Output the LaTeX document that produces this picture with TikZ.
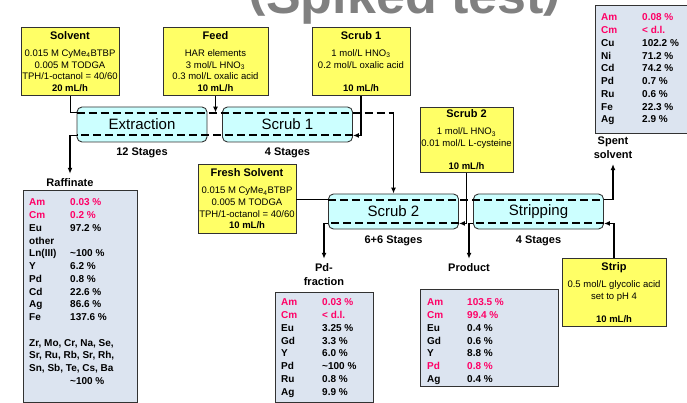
\documentclass[tikz,border=0pt]{standalone}
\usepackage{fontspec}
\setmainfont{Liberation Sans}
\usetikzlibrary{arrows.meta,calc}

\definecolor{feedyellow}{RGB}{255,255,102}
\definecolor{stagecyan}{RGB}{204,255,255}
\definecolor{resultfill}{RGB}{220,228,240}
\definecolor{actinide}{RGB}{255,0,102}
\definecolor{titlegray}{RGB}{128,128,128}
\definecolor{edgegray}{RGB}{50,50,50}

\newcommand{\hl}[1]{\textcolor{actinide}{#1}}
\newcommand{\ttl}[1]{{\fontsize{11}{11.7}\selectfont\bfseries #1}}
\newcommand{\hparen}[1]{\raisebox{0.17em}{#1}}

\tikzset{
  feedbox/.style={draw=edgegray, line width=0.9pt, fill=feedyellow, inner sep=0pt,
    align=center, anchor=north, font=\fontsize{9.5}{11.7}\selectfont},
  stagebox/.style={draw=edgegray, line width=0.9pt, fill=stagecyan, rounded corners=5pt,
    minimum width=130pt, minimum height=35pt, inner sep=0pt, font=\fontsize{15}{18}\selectfont},
  resbox/.style={draw=edgegray, line width=1pt, fill=resultfill, anchor=north west, inner sep=0pt},
  restab/.style={anchor=north west, inner sep=0pt, font=\fontsize{10}{12.75}\selectfont\bfseries},
  lab/.style={font=\fontsize{11}{14}\selectfont\bfseries, align=center, inner sep=2pt},
  flow/.style={dash pattern=on 8pt off 4pt, line width=2pt},
  pipe/.style={line width=0.9pt},
  arr/.style={line width=1.6pt, -{Latex[length=6pt,width=5pt]}},
}

\begin{document}
\begin{tikzpicture}[x=1pt, y=-1pt]
\useasboundingbox (0,0) rectangle (687,403);
\begin{scope}
\clip (0,0) rectangle (687,403);

% heading, running off the top edge
\node[font=\fontsize{52}{52}\selectfont\bfseries, text=titlegray, anchor=base, inner sep=0pt]
  (heading) at (405,14) {\hparen{(}Spiked test\hparen{)}};

% feed streams
\node[feedbox, minimum width=98pt, minimum height=68pt] (solv) at (70,27)
  {\ttl{Solvent}\\[5.5pt] 0.015 M CyMe\textsubscript{4}BTBP\\ 0.005 M TODGA\\ TPH/1-octanol = 40/60\\ \textbf{20 mL/h}};
\node[feedbox, minimum width=105pt, minimum height=68pt] (feed) at (215.5,27)
  {\ttl{Feed}\\[5.5pt] HAR elements\\ 3 mol/L HNO\textsubscript{3}\\ 0.3 mol/L oxalic acid\\ \textbf{10 mL/h}};
\node[feedbox, minimum width=98pt, minimum height=68pt] (sfeedA) at (361,27)
  {\ttl{Scrub 1}\\[5.5pt] 1 mol/L HNO\textsubscript{3}\\ 0.2 mol/L oxalic acid\\ \mbox{}\\ \textbf{10 mL/h}};
\node[feedbox, minimum width=93pt, minimum height=65pt] (sfeedB) at (466.5,107)
  {\ttl{Scrub 2}\\[5.5pt] 1 mol/L HNO\textsubscript{3}\\ 0.01 mol/L L-cysteine\\ \mbox{}\\ \textbf{10 mL/h}};
\node[feedbox, minimum width=98pt, minimum height=69pt] (fresh) at (247,164)
  {\ttl{Fresh Solvent}\\[5.5pt] 0.015 M CyMe\textsubscript{4}BTBP\\ 0.005 M TODGA\\ TPH/1-octanol = 40/60\\ \textbf{10 mL/h}};
\node[feedbox, minimum width=104pt, minimum height=68pt] (sfeedC) at (614,258)
  {\ttl{Strip}\\[5.5pt] 0.5 mol/L glycolic acid\\ set to pH 4\\ \mbox{}\\ \textbf{10 mL/h}};

% contactor sections
\node[stagebox] (ext)  at (142,124.5) {Extraction};
\node[stagebox] (scrA) at (287.5,124.5) {Scrub 1};
\node[stagebox] (scrB) at (393.5,211.5) {Scrub 2};
\node[stagebox] (strp) at (538.5,211.5) {Stripping};

\node[lab] (stgA) at (142,152.5) {12 Stages};
\node[lab] (stgB) at (287.5,152.5) {4 Stages};
\node[lab] (stgC) at (393.5,241) {6+6 Stages};
\node[lab] (stgD) at (538.5,241) {4 Stages};

% outlet labels
\node[lab] (raflab)   at (70,183) {Raffinate};
\node[lab] (pdlab)    at (324,275) {Pd-\\fraction};
\node[lab] (prodlab)  at (469,268) {Product};
\node[lab] (spentlab) at (613,148) {Spent\\solvent};

% outlet compositions
\node[resbox, minimum width=114pt, minimum height=211.5pt] (rafbox) at (23,190) {};
\node[restab] (raftab) at (29,196.7) {\begin{tabular}{@{}p{41pt}@{}l@{}}
\hl{Am} & \hl{0.03 \%}\\
\hl{Cm} & \hl{0.2 \%}\\
Eu & 97.2 \%\\
other & \\
Ln(III) & \textasciitilde100 \%\\
Y & 6.2 \%\\
Pd & 0.8 \%\\
Cd & 22.6 \%\\
Ag & 86.6 \%\\
Fe & 137.6 \%\\
 & \\
\multicolumn{2}{@{}l@{}}{Zr, Mo, Cr, Na, Se,}\\
\multicolumn{2}{@{}l@{}}{Sr, Ru, Rb, Sr, Rh,}\\
\multicolumn{2}{@{}l@{}}{Sn, Sb, Te, Cs, Ba}\\
 & \textasciitilde100 \%
\end{tabular}};

\node[resbox, minimum width=98pt, minimum height=110pt] (pdbox) at (275,292) {};
\node[restab] (pdtab) at (281,296.7) {\begin{tabular}{@{}p{41pt}@{}l@{}}
\hl{Am} & \hl{0.03 \%}\\
\hl{Cm} & \hl{< d.l.}\\
Eu & 3.25 \%\\
Gd & 3.3 \%\\
Y & 6.0 \%\\
Pd & \textasciitilde100 \%\\
Ru & 0.8 \%\\
Ag & 9.9 \%
\end{tabular}};

\node[resbox, minimum width=138pt, minimum height=97pt] (prodbox) at (420,289) {};
\node[restab] (prodtab) at (427,296.7) {\begin{tabular}{@{}p{40pt}@{}l@{}}
\hl{Am} & \hl{103.5 \%}\\
\hl{Cm} & \hl{99.4 \%}\\
Eu & 0.4 \%\\
Gd & 0.6 \%\\
Y & 8.8 \%\\
\hl{Pd} & \hl{0.8 \%}\\
Ag & 0.4 \%
\end{tabular}};

\node[resbox, minimum width=100pt, minimum height=128pt] (spentbox) at (595,5) {};
\node[restab] (spenttab) at (601,11.7) {\begin{tabular}{@{}p{41pt}@{}l@{}}
\hl{Am} & \hl{0.08 \%}\\
\hl{Cm} & \hl{< d.l.}\\
Cu & 102.2 \%\\
Ni & 71.2 \%\\
Cd & 74.2 \%\\
Pd & 0.7 \%\\
Ru & 0.6 \%\\
Fe & 22.3 \%\\
Ag & 2.9 \%
\end{tabular}};

% phase levels inside the contactors
\coordinate (orgA) at ($(ext.north west)+(0,6)$);
\coordinate (aqA)  at ($(scrA.south east)+(0,-7)$);
\coordinate (orgB) at ($(scrB.north west)+(0,6)$);
\coordinate (aqB)  at ($(scrB.south east)+(0,-6)$);
\coordinate (aqC)  at ($(strp.south east)+(0,-6)$);

% loaded solvent: extraction -> scrub 1 -> scrub 2
\draw[pipe] (solv.south) |- (orgA);
\draw[flow] (orgA) -- (scrB.north |- orgA);
\draw[arr] (scrB.north |- orgA) -- (scrB.north);
\draw[arr] (feed.south) -- (feed.south |- orgA);

% aqueous: scrub 1 -> extraction -> raffinate
\draw[arr] (sfeedA.south) |- (aqA);
\draw[flow] (aqA) -- (ext.west |- aqA);
\draw[arr, shorten >=3pt] (ext.west |- aqA) -| (raflab.north);

% solvent: scrub 2 -> stripping -> spent solvent
\draw[pipe] (fresh.east |- orgB) -- (orgB);
\draw[flow] (orgB) -- (strp.east |- orgB);
\draw[arr, shorten >=3pt] (strp.east |- orgB) -| (spentlab.south);

% aqueous in scrub 2 -> Pd fraction
\draw[arr] (sfeedB.south) |- (aqB);
\draw[flow] (aqB) -- (scrB.west |- aqB);
\draw[arr, shorten >=3pt] (scrB.west |- aqB) -| (pdlab.north);

% strip solution -> stripping -> product
\draw[arr] (sfeedC.north) |- (aqC);
\draw[flow] (aqC) -- (strp.west |- aqC);
\draw[arr, shorten >=3pt] (strp.west |- aqC) -| (prodlab.north);
\end{scope}
\end{tikzpicture}
\end{document}
